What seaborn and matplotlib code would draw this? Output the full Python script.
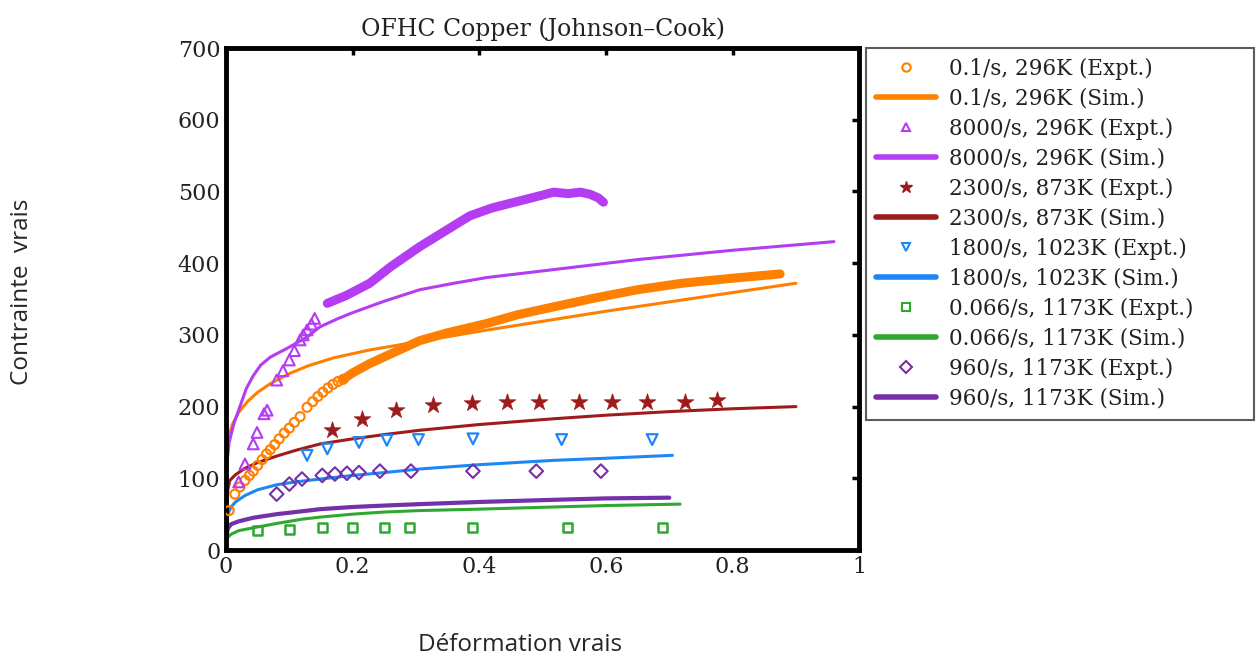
import matplotlib
matplotlib.use("Agg")
import matplotlib.pyplot as plt
import seaborn as sns
from matplotlib.lines import Line2D

sns.set_style("white")
plt.rcParams['font.family'] = ['DejaVu Serif']

# ---------------- data ----------------
# 0.1/s, 296K experiment: discrete circles then dense band
cu01_expt_x = [0.005, 0.014, 0.022, 0.030, 0.037, 0.043, 0.050, 0.057, 0.064, 0.070, 0.077, 0.084, 0.092, 0.100, 0.108, 0.117, 0.128, 0.137, 0.145, 0.153, 0.161, 0.169, 0.177, 0.185]
cu01_expt_y = [55, 78, 88, 97, 104, 110, 118, 126, 134, 140, 147, 155, 163, 170, 178, 186, 199, 207, 214, 220, 226, 231, 235, 238]
cu01_band_x = [0.185, 0.20, 0.227, 0.264, 0.306, 0.35, 0.412, 0.46, 0.517, 0.58, 0.65, 0.72, 0.80, 0.875]
cu01_band_y = [238, 247, 260, 275, 292, 303, 316, 328, 339, 351, 363, 372, 379, 385]
cu01_sim_x = [0.0, 0.005, 0.01, 0.02, 0.035, 0.05, 0.07, 0.10, 0.13, 0.17, 0.227, 0.30, 0.40, 0.50, 0.60, 0.70, 0.80, 0.90]
cu01_sim_y = [120, 160, 175, 192, 208, 220, 232, 246, 257, 268, 279, 290, 305, 319, 333, 346, 359, 372]

# 8000/s, 296K experiment: triangles then dense band
cu8000_expt_x = [0.020, 0.030, 0.043, 0.049, 0.060, 0.065, 0.080, 0.090, 0.100, 0.108, 0.117, 0.122, 0.128, 0.135, 0.140]
cu8000_expt_y = [95, 120, 148, 164, 190, 195, 237, 250, 265, 278, 293, 300, 307, 315, 323]
cu8000_band_x = [0.160, 0.19, 0.227, 0.26, 0.306, 0.35, 0.385, 0.42, 0.46, 0.50, 0.517, 0.54, 0.56, 0.575, 0.588, 0.596]
cu8000_band_y = [344, 355, 372, 395, 423, 447, 466, 477, 486, 495, 499, 497, 499, 496, 491, 485]
cu8000_sim_x = [0.0, 0.005, 0.012, 0.022, 0.032, 0.043, 0.055, 0.07, 0.096, 0.128, 0.148, 0.175, 0.20, 0.25, 0.306, 0.36, 0.412, 0.517, 0.65, 0.80, 0.96]
cu8000_sim_y = [110, 150, 175, 200, 225, 243, 258, 269, 281, 297, 311, 322, 331, 347, 363, 372, 380, 391, 405, 418, 430]

# 2300/s, 873K
cu2300_expt_x = [0.168, 0.214, 0.268, 0.327, 0.388, 0.443, 0.495, 0.557, 0.609, 0.665, 0.725, 0.776]
cu2300_expt_y = [167, 183, 195, 202, 205, 206, 207, 207, 207, 207, 207, 209]
cu2300_sim_x = [0.0, 0.003, 0.006, 0.015, 0.03, 0.05, 0.08, 0.11, 0.149, 0.20, 0.25, 0.306, 0.40, 0.517, 0.60, 0.70, 0.80, 0.90]
cu2300_sim_y = [50, 85, 97, 105, 114, 122, 131, 139, 148, 155, 161, 167, 175, 183, 188, 193, 197, 200]

# 1800/s, 1023K
cu1800_expt_x = [0.128, 0.160, 0.210, 0.254, 0.304, 0.390, 0.530, 0.673]
cu1800_expt_y = [132, 141, 150, 153, 154, 155, 154, 154]
cu1800_sim_x = [0.0, 0.003, 0.008, 0.015, 0.03, 0.05, 0.08, 0.11, 0.149, 0.20, 0.25, 0.306, 0.40, 0.517, 0.60, 0.705]
cu1800_sim_y = [30, 50, 60, 67, 76, 84, 91, 95, 99, 104, 108, 113, 119, 125, 128, 132]

# 0.066/s, 1173K
cu0066_expt_x = [0.050, 0.100, 0.152, 0.200, 0.250, 0.290, 0.390, 0.540, 0.690]
cu0066_expt_y = [27, 29, 31, 31, 31, 31, 31, 31, 31]
cu0066_sim_x = [0.0, 0.003, 0.008, 0.02, 0.043, 0.08, 0.12, 0.15, 0.20, 0.25, 0.306, 0.40, 0.517, 0.60, 0.717]
cu0066_sim_y = [10, 18, 22, 27, 31, 37, 43, 46, 50, 53, 55, 57, 60, 62, 64]

# 960/s, 1173K
cu960_expt_x = [0.080, 0.100, 0.120, 0.152, 0.172, 0.191, 0.210, 0.243, 0.292, 0.390, 0.490, 0.592]
cu960_expt_y = [78, 92, 99, 104, 106, 107, 108, 110, 110, 110, 110, 110]
cu960_sim_x = [0.0, 0.003, 0.008, 0.02, 0.043, 0.08, 0.12, 0.149, 0.20, 0.25, 0.306, 0.40, 0.517, 0.60, 0.70]
cu960_sim_y = [18, 30, 36, 40, 45, 50, 54, 57, 60, 62, 64, 67, 70, 72, 73]

labels = ["0.1/s, 296K (Expt.)", "0.1/s, 296K (Sim.)",
          "8000/s, 296K (Expt.)", "8000/s, 296K (Sim.)",
          "2300/s, 873K (Expt.)", "2300/s, 873K (Sim.)",
          "1800/s, 1023K (Expt.)", "1800/s, 1023K (Sim.)",
          "0.066/s, 1173K (Expt.)", "0.066/s, 1173K (Sim.)",
          "960/s, 1173K (Expt.)", "960/s, 1173K (Sim.)"]
x_ticks = [0, 0.2, 0.4, 0.6, 0.8, 1]
x_tick_labels = ["0", "0.2", "0.4", "0.6", "0.8", "1"]
y_ticks = [0, 100, 200, 300, 400, 500, 600, 700]

# ---------------- style ----------------
c_orange = "#ff8000"
c_violet = "#b43cf2"
c_red = "#9e1b1b"
c_blue = "#1f86f5"
c_green = "#2ea82e"
c_purple = "#7330a8"

fig = plt.figure(figsize=(12.59, 6.58), dpi=100)
ax = fig.add_axes([0.1795, 0.1641, 0.503, 0.7629])

def sim(x, y, c, lw=2.2):
    sns.lineplot(x=x, y=y, ax=ax, color=c, linewidth=lw, sort=False, estimator=None,
                 solid_joinstyle="round")

# experimental dense bands
sns.lineplot(x=cu01_band_x, y=cu01_band_y, ax=ax, color=c_orange, linewidth=6.5,
             sort=False, estimator=None, solid_capstyle="round", solid_joinstyle="round")
sns.lineplot(x=cu8000_band_x, y=cu8000_band_y, ax=ax, color=c_violet, linewidth=6.5,
             sort=False, estimator=None, solid_capstyle="round", solid_joinstyle="round")

sim(cu01_sim_x, cu01_sim_y, c_orange)
sim(cu8000_sim_x, cu8000_sim_y, c_violet)
sim(cu2300_sim_x, cu2300_sim_y, c_red)
sim(cu1800_sim_x, cu1800_sim_y, c_blue)
sim(cu0066_sim_x, cu0066_sim_y, c_green)
sim(cu960_sim_x, cu960_sim_y, c_purple, lw=3)

# experiments
ax.scatter(cu01_expt_x, cu01_expt_y, marker="o", s=42, facecolors="none", edgecolors=c_orange, linewidths=1.5, zorder=3)
ax.scatter(cu8000_expt_x, cu8000_expt_y, marker="^", s=60, facecolors="none", edgecolors=c_violet, linewidths=1.5, zorder=3)
sns.scatterplot(x=cu2300_expt_x, y=cu2300_expt_y, ax=ax, marker="*", s=160, color=c_red, edgecolor=c_red, linewidth=0.5, zorder=3)
ax.scatter(cu1800_expt_x, cu1800_expt_y, marker="v", s=60, facecolors="none", edgecolors=c_blue, linewidths=1.6, zorder=3)
ax.scatter(cu0066_expt_x, cu0066_expt_y, marker="s", s=42, facecolors="none", edgecolors=c_green, linewidths=1.8, zorder=3)
ax.scatter(cu960_expt_x, cu960_expt_y, marker="D", s=48, facecolors="none", edgecolors=c_purple, linewidths=1.5, zorder=3)

ax.set_xlim(0, 1)
ax.set_ylim(0, 700)
ax.set_xticks(x_ticks)
ax.set_xticklabels(x_tick_labels)
ax.set_yticks(y_ticks)
ax.tick_params(direction="in", length=5, width=2.5, top=True, right=True,
               labelsize=16, pad=4, color="black", labelcolor="#222222")
for sp in ax.spines.values():
    sp.set_linewidth(3.5)
    sp.set_color("black")
ax.set_title("OFHC Copper (Johnson\u2013Cook)", fontsize=17, pad=9, color="#222222")

# legend
handles = []
specs = [(c_orange, "o"), (c_violet, "^"), (c_red, "*"), (c_blue, "v"), (c_green, "s"), (c_purple, "D")]
for c, m in specs:
    if m == "*":
        handles.append(Line2D([], [], linestyle="none", marker=m, markersize=9, color=c))
    else:
        handles.append(Line2D([], [], linestyle="none", marker=m, markersize=6,
                              markerfacecolor="none", markeredgecolor=c, markeredgewidth=1.5))
    handles.append(Line2D([], [], color=c, linewidth=4))
leg = fig.legend(handles, labels, loc="upper left", bbox_to_anchor=(0.688, 0.36, 0.308, 0.567),
                 bbox_transform=fig.transFigure, mode="expand", fontsize=15.5, frameon=True,
                 fancybox=False, edgecolor="#333333", labelspacing=0.37,
                 handlelength=2.8, handletextpad=0.6, borderpad=0.45, borderaxespad=0)
leg.get_frame().set_linewidth(1.5)
for t in leg.get_texts():
    t.set_color("#222222")

fig.text(0.413, 0.02, "Déformation vrais", fontsize=17.5, family="Open Sans", ha="center", va="center")
fig.text(0.0175, 0.556, "Contrainte  vrais", fontsize=17.5, family="Open Sans", rotation=90, ha="center", va="center")

fig.savefig("out.png", dpi=100)
